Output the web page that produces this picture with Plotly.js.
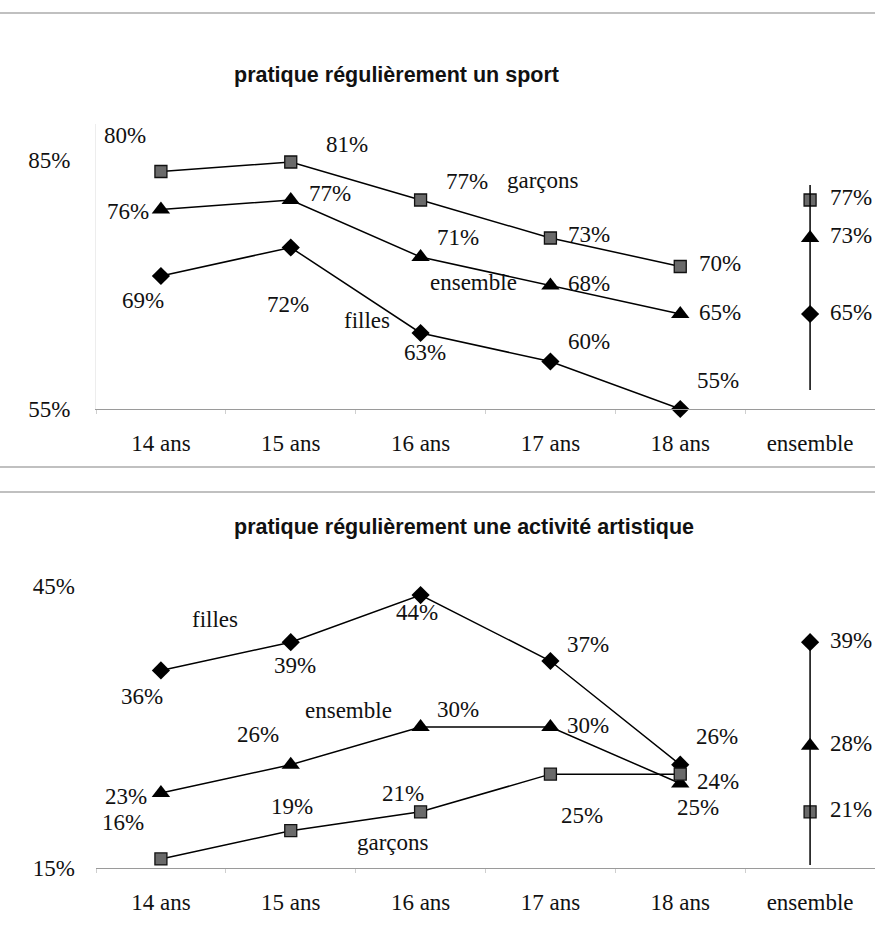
<!DOCTYPE html>
<html>
<head>
<meta charset="utf-8">
<script src="https://cdn.plot.ly/plotly-3.0.1.min.js"></script>
<style>
  html, body { margin: 0; padding: 0; background: #fff; }
  #chart { width: 875px; height: 939px; }
</style>
</head>
<body>
<div id="chart"></div>
<script>
// Categories
const ages = ['14 ans', '15 ans', '16 ans', '17 ans', '18 ans'];
const overallCat = 'ensemble';

// Pratique régulièrement un sport (%)
const sportGarcons  = [80, 81, 77, 73, 70];
const sportEnsemble = [76, 77, 71, 68, 65];
const sportFilles   = [69, 72, 63, 60, 55];
const sportOverall  = { garcons: 77, ensemble: 73, filles: 65 };

// Pratique régulièrement une activité artistique (%)
const artFilles   = [36, 39, 44, 37, 26];
const artEnsemble = [23, 26, 30, 30, 24];
const artGarcons  = [16, 19, 21, 25, 25];
const artOverall  = { garcons: 21, ensemble: 28, filles: 39 };

// Axis tick labels
const sportTickText = ['55%', '85%'];
const artTickText   = ['15%', '45%'];

// ---- geometry helpers (pixel -> paper) ----
const W = 875, H = 939, ML = 96, MR = 0;
const px = x => (x - ML) / (W - ML - MR);
const py = y => 1 - y / H;

const serif = 'Liberation Serif, Times New Roman, serif';
const labelFont = { family: serif, size: 23, color: '#111' };

const markerStyles = {
  garcons:  { symbol: 'square', size: 12, color: '#6a6a6a', line: { color: '#111', width: 1.3 } },
  ensemble: { symbol: 'triangle-up', size: 16, color: '#000', line: { color: '#000', width: 0 } },
  filles:   { symbol: 'diamond', size: 14, color: '#000', line: { color: '#000', width: 0 } }
};

function series(xa, ya, vals, kind) {
  return {
    type: 'scatter', mode: 'lines+markers', xaxis: xa, yaxis: ya,
    x: ages, y: vals, cliponaxis: false,
    line: { color: '#000', width: 1.5 },
    marker: markerStyles[kind], hoverinfo: 'skip', showlegend: false
  };
}
function overall(xa, ya, val, kind) {
  return {
    type: 'scatter', mode: 'markers', xaxis: xa, yaxis: ya,
    x: [overallCat], y: [val], cliponaxis: false,
    marker: markerStyles[kind], hoverinfo: 'skip', showlegend: false
  };
}

// Label offsets (dx, dy in px, screen direction) for each point of a series
const offs = {
  sportGarcons:  [[-36, -36], [56, -17], [46, -18], [39, -3], [40, -3]],
  sportEnsemble: [[-33, 2], [39, -6], [37, -20], [39, -2], [40, -2]],
  sportFilles:   [[-18, 24], [-3, 57], [4, 19], [39, -20], [38, -29]],
  artGarcons:    [[-38, -36], [1, -24], [-18, -18], [32, 41], [18, 33]],
  artEnsemble:   [[-35, 4], [-33, -30], [37, -18], [38, -2], [38, -2]],
  artFilles:     [[-19, 26], [4, 23], [-4, 17], [38, -17], [37, -28]]
};
const overallOff = [41, -2];

const annotations = [];
function addLabels(xa, ya, cats, vals, off) {
  vals.forEach((v, i) => {
    annotations.push({
      xref: xa, yref: ya, x: cats[i], y: v, text: v + '%',
      showarrow: false, xshift: off[i][0], yshift: -off[i][1],
      font: labelFont, xanchor: 'center', yanchor: 'middle'
    });
  });
}
function addText(x, y, text, font, anchor) {
  annotations.push({
    xref: 'paper', yref: 'paper', x: px(x), y: py(y), text: text,
    showarrow: false, font: font, xanchor: anchor || 'center', yanchor: 'middle'
  });
}

addLabels('x', 'y', ages, sportGarcons, offs.sportGarcons);
addLabels('x', 'y', ages, sportEnsemble, offs.sportEnsemble);
addLabels('x', 'y', ages, sportFilles, offs.sportFilles);
addLabels('x2', 'y2', ages, artGarcons, offs.artGarcons);
addLabels('x2', 'y2', ages, artEnsemble, offs.artEnsemble);
addLabels('x2', 'y2', ages, artFilles, offs.artFilles);
['garcons', 'ensemble', 'filles'].forEach(k => {
  addLabels('x', 'y', [overallCat], [sportOverall[k]], [overallOff]);
  addLabels('x2', 'y2', [overallCat], [artOverall[k]], [overallOff]);
});

// series names written next to the curves
addText(543, 180, 'garçons', labelFont);
addText(473, 282, 'ensemble', labelFont);
addText(367, 320, 'filles', labelFont);
addText(215, 619, 'filles', labelFont);
addText(348, 710, 'ensemble', labelFont);
addText(393, 842, 'garçons', labelFont);

// panel titles
const titleFont = { family: 'Liberation Sans, Arial, sans-serif', size: 21.5, color: '#111', weight: 'bold' };
addText(232, 75, '<b>pratique régulièrement un sport</b>', titleFont, 'left');
addText(232, 527, '<b>pratique régulièrement une activité artistique</b>', titleFont, 'left');

const traces = [
  series('x', 'y', sportGarcons, 'garcons'),
  series('x', 'y', sportEnsemble, 'ensemble'),
  series('x', 'y', sportFilles, 'filles'),
  overall('x', 'y', sportOverall.garcons, 'garcons'),
  overall('x', 'y', sportOverall.ensemble, 'ensemble'),
  overall('x', 'y', sportOverall.filles, 'filles'),
  series('x2', 'y2', artFilles, 'filles'),
  series('x2', 'y2', artEnsemble, 'ensemble'),
  series('x2', 'y2', artGarcons, 'garcons'),
  overall('x2', 'y2', artOverall.filles, 'filles'),
  overall('x2', 'y2', artOverall.ensemble, 'ensemble'),
  overall('x2', 'y2', artOverall.garcons, 'garcons')
];

const cats = ages.concat([overallCat]);
const xBase = {
  type: 'category', categoryorder: 'array', categoryarray: cats,
  range: [-0.5, 5.5], showgrid: false, zeroline: false,
  showline: true, linecolor: '#9a9a9a', linewidth: 1,
  ticks: 'outside', tickson: 'boundaries', ticklen: 4, tickcolor: '#cfcfcf',
  tickfont: labelFont, ticklabelstandoff: 13, fixedrange: true
};
const yBase = {
  showgrid: false, zeroline: false, ticks: '', tickfont: labelFont,
  ticklabelstandoff: 20, fixedrange: true
};

const hline = y => ({
  type: 'line', xref: 'paper', yref: 'paper', x0: px(0), x1: px(875), y0: py(y), y1: py(y),
  line: { color: '#ababab', width: 1.5 }
});

const layout = {
  width: W, height: H,
  margin: { l: ML, r: MR, t: 0, b: 0 },
  paper_bgcolor: '#fff', plot_bgcolor: 'rgba(0,0,0,0)',
  showlegend: false,
  xaxis: Object.assign({}, xBase, { anchor: 'y', domain: [0, 1] }),
  xaxis2: Object.assign({}, xBase, { anchor: 'y2', domain: [0, 1] }),
  yaxis: Object.assign({}, yBase, {
    anchor: 'x', domain: [py(409), py(124)], range: [55, 85],
    tickvals: [55, 81.2], ticktext: sportTickText,
    showline: true, linecolor: '#ededed', linewidth: 1
  }),
  yaxis2: Object.assign({}, yBase, {
    anchor: 'x2', domain: [py(868.4), py(585.6)], range: [15, 45],
    tickvals: [15, 45], ticktext: artTickText, showline: false
  }),
  shapes: [
    hline(13), hline(467), hline(492),
    { type: 'line', xref: 'x', yref: 'paper', x0: 5, x1: 5, y0: py(185), y1: py(390),
      line: { color: '#000', width: 1.5 } },
    { type: 'line', xref: 'x2', yref: 'paper', x0: 5, x1: 5, y0: py(643), y1: py(865),
      line: { color: '#000', width: 1.5 } }
  ],
  annotations: annotations
};

Plotly.newPlot('chart', traces, layout, { staticPlot: true, displayModeBar: false });
</script>
</body>
</html>
